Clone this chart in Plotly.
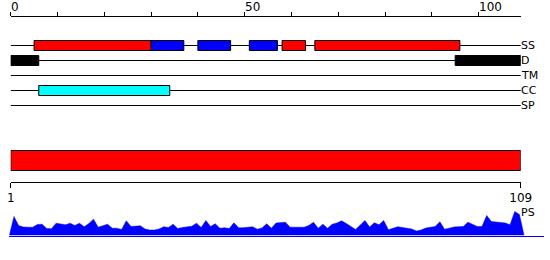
import plotly.graph_objects as go

W, H = 550, 260
SEQ_LEN = 109

# Secondary structure segments (residue start/end)
SS_START = [5, 30, 40, 51, 58, 65]
SS_END = [30, 37, 47, 57, 63, 96]
SS_TYPE = ["H", "E", "E", "E", "H", "H"]
# Disorder segments
D_START = [0, 95]
D_END = [6, 109]
# Coiled coil segments
CC_START = [6]
CC_END = [34]

TRACKS = ["SS", "D", "TM", "CC", "SP"]
RULER_TICKS = list(range(0, 101, 10))
RULER_LABELS = ["0", "50", "100"]
RULER_LABEL_POS = [0, 50, 100]

# Per-residue PS profile (relative height)
PS = [19, 10, 8.5, 8.3, 8.3, 11, 11.3, 7, 6.7, 12.3,
      11.8, 10.7, 12.3, 10, 12.3, 8.7, 12, 16.3, 8.3, 9.5,
      11.3, 7.3, 7.3, 6, 14.7, 9, 9.2, 9.7, 6.5, 5.5,
      5.5, 6.5, 8.7, 8, 11.3, 7, 8, 9, 9.3, 12.3,
      8, 15, 9, 11.7, 7.3, 7.7, 7, 12.7, 7.7, 7.8,
      8, 8.7, 6.3, 7.5, 11.7, 7.3, 12.5, 13, 13.3, 8.3,
      8.3, 8.3, 8.3, 10, 13.3, 7.3, 11.3, 7.3, 11.3, 12.5,
      14.7, 12, 9, 6, 10.5, 15, 8.5, 12.7, 10.7, 15,
      5.7, 7.5, 8.7, 8, 7.3, 6.5, 4.5, 5.5, 7.5, 8.3,
      9, 13.7, 6.3, 7.3, 8.5, 8.8, 9, 13.3, 11, 9,
      9, 20, 14, 13.7, 13.3, 12.5, 10.7, 24, 21]

# ---- layout constants (pixel rows) ----
ROW_Y = {"SS": 45.5, "D": 60.5, "TM": 75.5, "CC": 90.5, "SP": 105.5}
BOX_H = 10
X0_PX, X1_PX = 10.7, 520.7
PS_X0_PX, PS_STEP = 9.3, 4.68
PS_BASE_PX, PS_TOP_PX = 235.5, 205.5
FONT = "DejaVu Sans"

fig = go.Figure()

# track baselines
for t in TRACKS:
    fig.add_shape(type="line", xref="x", yref="y", x0=0, x1=SEQ_LEN + 0.2,
                  y0=ROW_Y[t], y1=ROW_Y[t], line=dict(color="black", width=1), layer="below")

def seg_bar(starts, ends, row, colors):
    fig.add_trace(go.Bar(
        orientation="h",
        base=starts,
        x=[e - s for s, e in zip(starts, ends)],
        y=[ROW_Y[row]] * len(starts),
        width=BOX_H,
        marker=dict(color=colors, line=dict(color="black", width=1)),
        xaxis="x", yaxis="y", hoverinfo="skip", showlegend=False,
    ))

ss_colors = ["#FF0000" if t == "H" else "#0000FF" for t in SS_TYPE]
seg_bar(SS_START, SS_END, "SS", ss_colors)
seg_bar(D_START, D_END, "D", ["black"] * len(D_START))
seg_bar(CC_START, CC_END, "CC", ["#00FFFF"] * len(CC_START))

# full-length red bar
fig.add_shape(type="rect", xref="x3", yref="y", x0=1, x1=SEQ_LEN, y0=150.5, y1=170.5,
              fillcolor="#FF0000", line=dict(color="black", width=1))

# PS area
ps_x = [0] + list(range(1, SEQ_LEN + 1)) + [SEQ_LEN + 1]
ps_y = [0] + PS + [0]
fig.add_trace(go.Scatter(x=ps_x, y=ps_y, mode="lines", fill="tozeroy",
                         fillcolor="#0000FF", line=dict(color="#0000FF", width=0.5),
                         xaxis="x2", yaxis="y2", hoverinfo="skip", showlegend=False))

# labels on the right
for t in TRACKS:
    fig.add_annotation(x=SEQ_LEN, y=ROW_Y[t], xref="x", yref="y", text=t, showarrow=False,
                       xanchor="left", yanchor="middle", xshift=-2,
                       font=dict(family=FONT, size=11, color="black"))
fig.add_annotation(x=SEQ_LEN, y=212, xref="x", yref="y", text="PS", showarrow=False,
                   xanchor="left", yanchor="middle", xshift=-2,
                   font=dict(family=FONT, size=11, color="black"))

# top ruler labels
for v, lab in zip(RULER_LABEL_POS, RULER_LABELS):
    fig.add_annotation(x=v, y=6.5, xref="x", yref="y", text=lab, showarrow=False,
                       xanchor="left", yanchor="middle", xshift=-2,
                       font=dict(family=FONT, size=12, color="black"))

xdom = [X0_PX / W, X1_PX / W]
ps_end_px = 543.5
fig.update_layout(
    width=W, height=H, margin=dict(l=0, r=0, t=0, b=0, autoexpand=False),
    paper_bgcolor="white", plot_bgcolor="white",
    barmode="overlay", showlegend=False,
    xaxis=dict(domain=xdom, range=[0, SEQ_LEN], side="top", anchor="free",
               position=1 - 15.5 / H, showline=True, linecolor="black", linewidth=1,
               ticks="outside", ticklen=4, tickcolor="black", tickwidth=1,
               tickvals=RULER_TICKS, showticklabels=False, showgrid=False, zeroline=False,
               fixedrange=True, automargin=False),
    yaxis=dict(domain=[0, 1], range=[H, 0], visible=False, fixedrange=True, automargin=False),
    xaxis3=dict(domain=xdom, range=[1, SEQ_LEN], side="bottom", anchor="free",
                position=1 - 181.5 / H, overlaying="x", showline=True, linecolor="black",
                linewidth=1, ticks="outside", ticklen=5, tickcolor="black", tickwidth=1,
                tickvals=[1, SEQ_LEN], ticktext=["1", str(SEQ_LEN)],
                tickfont=dict(family=FONT, size=12, color="black"),
                showgrid=False, zeroline=False, fixedrange=True, automargin=False),
    xaxis2=dict(domain=[PS_X0_PX / W, ps_end_px / W],
                range=[0, (ps_end_px - PS_X0_PX) / PS_STEP], anchor="y2",
                showline=True, linecolor="#0000FF", linewidth=1, ticks="",
                showticklabels=False, showgrid=False, zeroline=False, fixedrange=True,
                automargin=False),
    yaxis2=dict(domain=[(H - PS_BASE_PX) / H, (H - PS_TOP_PX) / H], range=[0, 30],
                visible=False, fixedrange=True, automargin=False),
)

fig.write_html("out.html")
